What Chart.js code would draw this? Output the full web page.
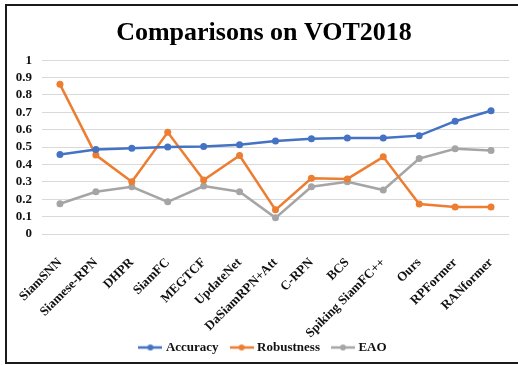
<!DOCTYPE html>
<html>
<head>
<meta charset="utf-8">
<script src="https://cdn.jsdelivr.net/npm/chart.js@4.4.1/dist/chart.umd.min.js"></script>
<style>
  html, body { margin: 0; padding: 0; background: #fff; }
  #wrap { position: relative; width: 518px; height: 365px; overflow: hidden; }
  #chart { position: absolute; left: 0; top: 0; }
  /* black frame round the chart, open on the right edge */
  #frame {
    position: absolute; left: 5px; top: 4px; width: 530px; height: 356px;
    border: 2px solid #1a1a1a; pointer-events: none;
  }
</style>
</head>
<body>
<div id="wrap">
  <canvas id="chart" width="528" height="365"></canvas>
  <div id="frame"></div>
</div>
<script>
// ── Data ─────────────────────────────────────────────────────────
const trackers = ["SiamSNN", "Siamese-RPN", "DHPR", "SiamFC", "MEGTCF", "UpdateNet",
  "DaSiamRPN+Att", "C-RPN", "BCS", "Spiking SiamFC++", "Ours", "RPFormer", "RANformer"];
const accuracy   = [0.458, 0.486, 0.494, 0.500, 0.504, 0.513, 0.535, 0.548, 0.552, 0.552, 0.566, 0.649, 0.709];
const robustness = [0.861, 0.454, 0.301, 0.585, 0.311, 0.452, 0.139, 0.321, 0.317, 0.444, 0.172, 0.155, 0.155];
const eao        = [0.174, 0.243, 0.272, 0.185, 0.276, 0.243, 0.093, 0.272, 0.301, 0.253, 0.434, 0.490, 0.481];
const yTicks     = [0, 0.1, 0.2, 0.3, 0.4, 0.5, 0.6, 0.7, 0.8, 0.9, 1];

const BLUE = "#4472C4", ORANGE = "#ED7D31", GRAY = "#A5A5A5";
const SERIF = "'Liberation Serif', 'Times New Roman', serif";

// small line-with-dot swatch for the legend
function swatch(color) {
  const c = document.createElement("canvas");
  c.width = 24; c.height = 8;
  const g = c.getContext("2d");
  g.strokeStyle = color; g.lineWidth = 2.5;
  g.beginPath(); g.moveTo(0, 4); g.lineTo(24, 4); g.stroke();
  g.fillStyle = color;
  g.beginPath(); g.arc(12, 4, 3, 0, Math.PI * 2); g.fill();
  return c;
}

function series(label, data, color) {
  return {
    label, data,
    borderColor: color, backgroundColor: color,
    borderWidth: 2.5,
    pointRadius: 3.5, pointBorderWidth: 0,
    pointBackgroundColor: color,
    tension: 0,
    legendSwatch: swatch(color)
  };
}

new Chart(document.getElementById("chart"), {
  type: "line",
  data: {
    labels: trackers,
    datasets: [
      series("Accuracy", accuracy, BLUE),
      series("Robustness", robustness, ORANGE),
      series("EAO", eao, GRAY)
    ]
  },
  options: {
    responsive: false,
    animation: false,
    devicePixelRatio: 1,
    layout: { padding: { left: 0, right: 0, top: 0, bottom: 1 } },
    plugins: {
      title: {
        display: true,
        text: "Comparisons on VOT2018",
        color: "#000",
        font: { family: SERIF, size: 26, weight: "bold" },
        padding: { top: 18, bottom: 11 }
      },
      legend: {
        position: "bottom",
        labels: {
          color: "#111",
          font: { family: SERIF, size: 13, weight: "bold" },
          usePointStyle: true,
          pointStyleWidth: 18,
          padding: 14,
          generateLabels(chart) {
            return chart.data.datasets.map((ds, i) => ({
              text: ds.label,
              fillStyle: ds.borderColor,
              strokeStyle: ds.borderColor,
              fontColor: "#111",
              lineWidth: 0,
              pointStyle: ds.legendSwatch,
              hidden: false,
              datasetIndex: i
            }));
          }
        }
      },
      tooltip: { enabled: false }
    },
    scales: {
      x: {
        offset: true,
        grid: { display: false },
        border: { display: false },
        ticks: {
          color: "#111",
          font: { family: SERIF, size: 13, weight: "bold" },
          minRotation: 45, maxRotation: 45,
          autoSkip: false, padding: 13
        },
        afterFit(scale) {
          scale.height = 93;
          // long rotated names may run below the axis box; don't clip them
          scale._computeLabelArea = () => undefined;
        }
      },
      y: {
        min: 0, max: 1,
        grid: { color: "#d9d9d9", lineWidth: 1, drawTicks: false },
        border: { display: false },
        afterBuildTicks(scale) { scale.ticks = yTicks.map(v => ({ value: v })); },
        ticks: {
          color: "#111",
          font: { family: SERIF, size: 13, weight: "bold" },
          padding: 10,
          autoSkip: false,
          callback: v => String(v)
        },
        afterFit(scale) { scale.width = 42; }
      },
      // empty spacer on the right so the plot stops short of the edge
      yRight: {
        type: "linear",
        position: "right",
        grid: { display: false },
        border: { display: false },
        ticks: { display: false },
        afterFit(scale) { scale.width = 19; }
      }
    }
  }
});
</script>
</body>
</html>
